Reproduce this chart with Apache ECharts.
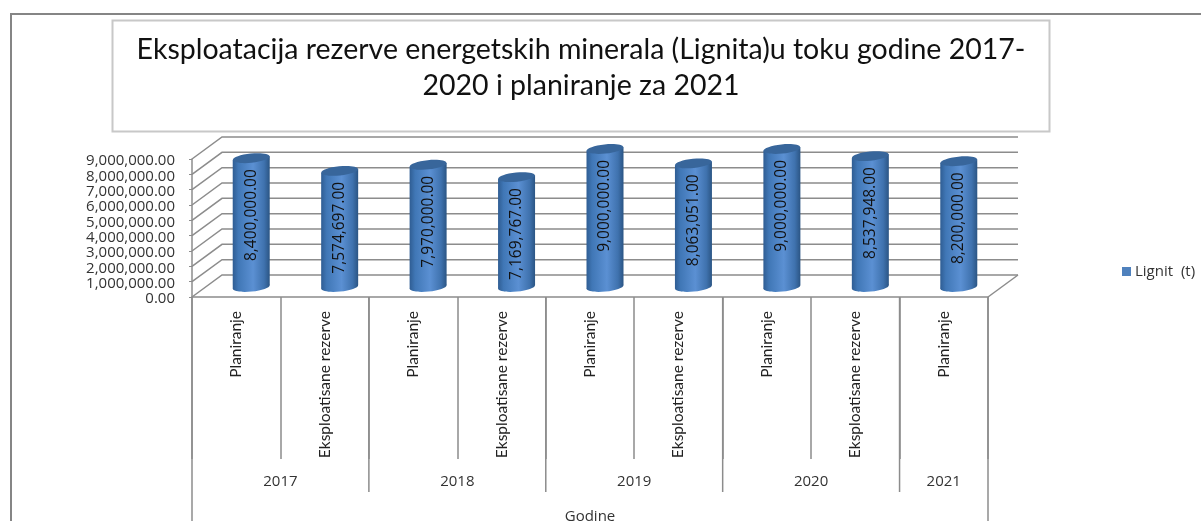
<!DOCTYPE html>
<html>
<head>
<meta charset="utf-8">
<title>Lignit</title>
<script src="https://cdn.jsdelivr.net/npm/echarts@6/dist/echarts.min.js"></script>
<style>
    html, body { margin: 0; padding: 0; background: #fff; }
    #chart { width: 1201px; height: 521px; }
</style>
</head>
<body>
<div id="chart"></div>
<script>
const categories = ['Planiranje', 'Eksploatisane rezerve', 'Planiranje', 'Eksploatisane rezerve', 'Planiranje', 'Eksploatisane rezerve', 'Planiranje', 'Eksploatisane rezerve', 'Planiranje']
const lignit = [8400000, 7574697, 7970000, 7169767, 9000000, 8063051, 9000000, 8537948, 8200000]
const yTicks = [0, 1000000, 2000000, 3000000, 4000000, 5000000, 6000000, 7000000, 8000000, 9000000]
const years = ['2017', '2018', '2019', '2020', '2021']
const yearStart = [0, 2, 4, 6, 8]
const yearEnd = [1, 3, 5, 7, 8]
const seriesName = 'Lignit  (t)'

const AXIS_COLOR = '#8c8c8c'
const DEPTH_X = 30
const DEPTH_Y = -22
const FONT = '"Open Sans", sans-serif'

const money = v => v.toLocaleString('en-US', { minimumFractionDigits: 2, maximumFractionDigits: 2 })

// back wall + side wall lines of the fake 3d box
const renderWall = (params, api) => {
    const p = api.coord([0, api.value(1)])
    const band = api.size([1, 0])[0]
    const x0 = p[0] - band / 2
    const isFloor = api.value(1) === 0
    const children = [{
        type: 'polyline',
        shape: {
            points: [
                [x0, p[1]],
                [x0 + DEPTH_X, p[1] + DEPTH_Y],
                [x0 + DEPTH_X + band * categories.length, p[1] + DEPTH_Y]
            ]
        },
        style: { stroke: AXIS_COLOR, lineWidth: 1.5, fill: null }
    }]
    if (isFloor) {
        children.push({
            type: 'line',
            shape: {
                x1: x0 + band * categories.length, y1: p[1],
                x2: x0 + band * categories.length + DEPTH_X, y2: p[1] + DEPTH_Y
            },
            style: { stroke: AXIS_COLOR, lineWidth: 1.5 }
        })
    }
    return { type: 'group', children: children }
}

const renderCylinder = (params, api) => {
    const idx = api.value(0)
    const val = api.value(1)
    const topP = api.coord([idx, val])
    const baseP = api.coord([idx, 0])
    const cx = topP[0] + 15
    const top = topP[1] - 10
    const base = baseP[1] - 10
    const rx = 18.5
    const ry = 4.6
    const tilt = 0.1
    const lift = rx * Math.sin(tilt)
    const body = {
        type: 'linear', x: cx - rx, y: 0, x2: cx + rx, y2: 0, global: true,
        colorStops: [
            { offset: 0, color: '#2f5d93' },
            { offset: 0.15, color: '#4077b6' },
            { offset: 0.55, color: '#5b90d3' },
            { offset: 0.85, color: '#3f72ae' },
            { offset: 1, color: '#2b5584' }
        ]
    }
    return {
        type: 'group',
        children: [
            {
                type: 'ellipse',
                originX: cx, originY: base, rotation: tilt,
                shape: { cx: cx, cy: base, rx: rx, ry: ry },
                style: { fill: body }
            },
            {
                type: 'polygon',
                shape: {
                    points: [
                        [cx - rx, top + lift], [cx + rx, top - lift],
                        [cx + rx, base - lift], [cx - rx, base + lift]
                    ]
                },
                style: { fill: body }
            },
            {
                type: 'ellipse',
                originX: cx, originY: top, rotation: tilt,
                shape: { cx: cx, cy: top, rx: rx, ry: ry },
                style: { fill: '#38669b' }
            },
            {
                type: 'text',
                x: cx, y: top + 11,
                rotation: Math.PI / 2,
                style: {
                    text: money(val),
                    align: 'right',
                    verticalAlign: 'middle',
                    font: '15.5px ' + FONT,
                    fill: '#111'
                }
            }
        ]
    }
}

// second level of the category axis: year names and long separators
const renderYears = (params, api) => {
    const i = params.dataIndex
    const band = api.size([1, 0])[0]
    const y0 = api.coord([0, 0])[1]
    const x0 = api.coord([yearStart[i], 0])[0] - band / 2
    const x1 = api.coord([yearEnd[i], 0])[0] + band / 2
    const last = i === years.length - 1
    const children = [
        {
            type: 'text',
            x: (x0 + x1) / 2, y: y0 + 185,
            style: { text: years[i], align: 'center', verticalAlign: 'middle', font: '15px ' + FONT, fill: '#333' }
        },
        {
            type: 'line',
            shape: { x1: x1, y1: y0, x2: x1, y2: last ? y0 + 224 : y0 + 195 },
            style: { stroke: AXIS_COLOR, lineWidth: 1.5 }
        }
    ]
    if (i === 0) {
        children.push({
            type: 'line',
            shape: { x1: x0, y1: y0, x2: x0, y2: y0 + 224 },
            style: { stroke: AXIS_COLOR, lineWidth: 1.5 }
        })
    }
    return { type: 'group', children: children }
}

const myChart = echarts.init(document.getElementById('chart'), null, { renderer: 'canvas' })
myChart.setOption({
    animation: false,
    backgroundColor: '#fff',
    textStyle: { fontFamily: FONT },
    title: {
        text: 'Eksploatacija rezerve energetskih minerala (Lignita)u toku godine 2017-\n2020 i planiranje za 2021',
        left: 581,
        top: 32,
        textAlign: 'center',
        padding: 0,
        textStyle: {
            fontFamily: 'Lato, sans-serif',
            fontWeight: 'normal',
            fontSize: 28.5,
            lineHeight: 36,
            color: '#111'
        }
    },
    legend: {
        data: [seriesName],
        left: 1122,
        top: 264,
        padding: 0,
        itemWidth: 9,
        itemHeight: 9,
        itemGap: 0,
        icon: 'rect',
        textStyle: { fontSize: 15, color: '#333', padding: [0, 0, 0, -1], fontFamily: FONT }
    },
    grid: { left: 192, top: 159, width: 796, height: 138, containLabel: false, outerBoundsMode: 'none' },
    xAxis: {
        type: 'category',
        data: categories,
        name: 'Godine',
        nameLocation: 'middle',
        nameGap: 212,
        nameTextStyle: { fontSize: 15, color: '#333' },
        axisLine: { lineStyle: { color: AXIS_COLOR, width: 1.5 } },
        axisTick: { show: true, length: 162, lineStyle: { color: AXIS_COLOR, width: 1.5 } },
        axisLabel: {
            interval: 0,
            rotate: 90,
            margin: 14,
            fontSize: 15.5,
            color: '#222',
            fontFamily: 'Lato, sans-serif'
        }
    },
    yAxis: {
        type: 'value',
        min: 0,
        max: 9000000,
        interval: 1000000,
        axisLine: { show: true, lineStyle: { color: AXIS_COLOR, width: 1.5 } },
        axisTick: { show: true, length: 3, lineStyle: { color: AXIS_COLOR, width: 1 } },
        splitLine: { show: false },
        axisLabel: { margin: 17, fontSize: 15, color: '#333', verticalAlign: 'top', lineHeight: 4, formatter: money }
    },
    graphic: [
        {
            type: 'polyline',
            z: -1,
            shape: { points: [[11, 521], [11, 14], [1201, 14]] },
            style: { stroke: '#858585', lineWidth: 2, fill: null }
        },
        {
            type: 'rect',
            z: -1,
            shape: { x: 112.5, y: 20.5, width: 937, height: 111 },
            style: { stroke: '#c8c8c8', lineWidth: 2, fill: '#fff' }
        }
    ],
    series: [
        {
            type: 'custom',
            name: 'wall',
            silent: true,
            renderItem: renderWall,
            data: yTicks.map(v => [0, v]),
            z: 1
        },
        {
            type: 'custom',
            name: 'years',
            silent: true,
            renderItem: renderYears,
            data: years.map((y, i) => [yearStart[i], 0]),
            z: 1
        },
        {
            type: 'custom',
            name: seriesName,
            renderItem: renderCylinder,
            itemStyle: { color: '#4f81bd' },
            data: lignit,
            z: 2
        }
    ]
})
</script>
</body>
</html>
